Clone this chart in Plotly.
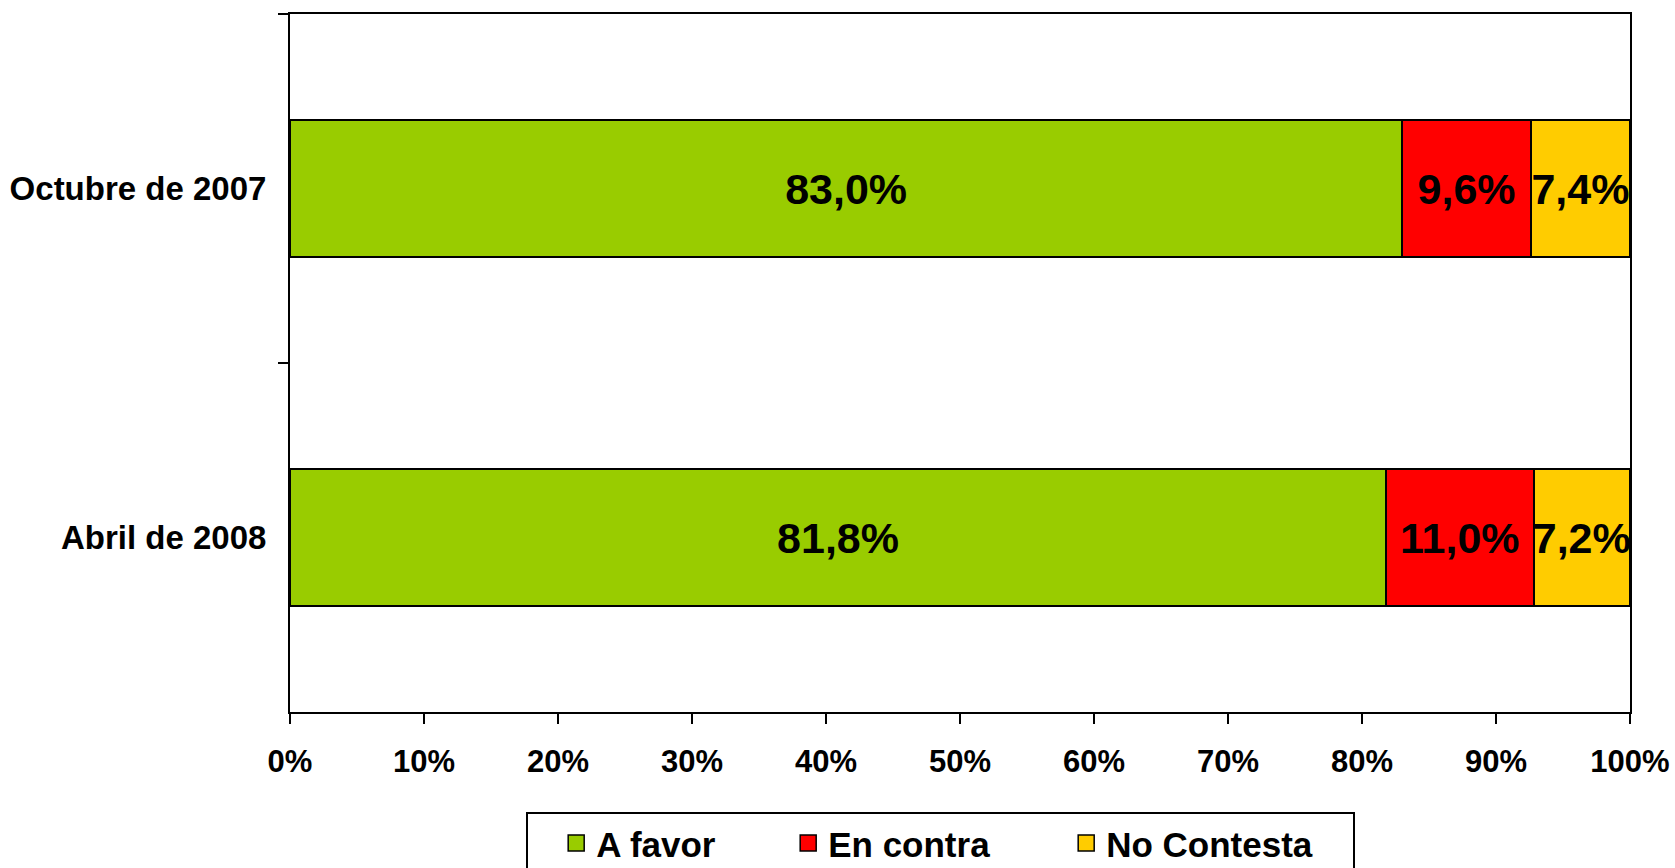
import plotly.graph_objects as go

categories = ["Octubre de 2007", "Abril de 2008"]
series_names = ["A favor", "En contra", "No Contesta"]
a_favor = [83.0, 81.8]
en_contra = [9.6, 11.0]
no_contesta = [7.4, 7.2]
colors = ["#99CC00", "#FF0000", "#FFCC00"]
x_ticks = [0, 10, 20, 30, 40, 50, 60, 70, 80, 90, 100]
x_tick_labels = [f"{v}%" for v in x_ticks]
legend_widths = [187, 233, 241]

FONT = "Liberation Sans, Arial, sans-serif"

fig = go.Figure()
for name, vals, col in zip(series_names, [a_favor, en_contra, no_contesta], colors):
    fig.add_trace(go.Bar(
        y=categories, x=vals, orientation="h", name=name,
        marker=dict(color=col, line=dict(color="black", width=2)),
        texttemplate="%{x:.1f}%", textposition="inside",
        insidetextanchor="middle", textangle=0,
        textfont=dict(family=FONT, size=43, color="black", weight="bold"),
        showlegend=False, hoverinfo="skip",
    ))
# legend entries
for name, col, lw in zip(series_names, colors, legend_widths):
    fig.add_trace(go.Scatter(
        x=[None], y=[None], mode="markers", name=name,
        marker=dict(symbol="square", size=16, color=col,
                    line=dict(color="black", width=1.5)),
        showlegend=True, legendwidth=lw,
    ))

fig.update_layout(
    width=1675, height=868,
    barmode="stack", bargap=0.605,
    separators=",.",
    margin=dict(l=290, r=45, t=14, b=156, autoexpand=False),
    paper_bgcolor="white", plot_bgcolor="white",
    font=dict(family=FONT, color="black", size=31, weight="bold"),
    uniformtext=dict(minsize=43, mode="show"),
    legend=dict(
        orientation="h", x=0.176, xanchor="left", y=-0.143, yanchor="top",
        traceorder="normal",
        bordercolor="black", borderwidth=2, bgcolor="white",
        font=dict(family=FONT, size=35, color="black", weight="bold"),
        itemsizing="trace",
        title=dict(text="\u00a0\u00a0", side="left",
                   font=dict(family=FONT, size=33, color="black")),
    ),
)
fig.update_xaxes(
    range=[0, 100], tickvals=x_ticks, ticktext=x_tick_labels,
    showgrid=False, zeroline=False,
    showline=True, linecolor="black", linewidth=2, mirror=True,
    ticks="outside", ticklen=10, tickwidth=2, tickcolor="black",
    ticklabelstandoff=11,
    tickfont=dict(family=FONT, size=31, color="black", weight="bold"),
)
fig.update_yaxes(
    autorange="reversed", tickson="boundaries",
    showgrid=False, zeroline=False,
    showline=True, linecolor="black", linewidth=2, mirror=True,
    ticks="outside", ticklen=10, tickwidth=2, tickcolor="black",
    ticklabelstandoff=15,
    tickfont=dict(family=FONT, size=33, color="black", weight="bold"),
)

fig.write_html("out.html", config={"displayModeBar": False},
               post_script="document.body.style.margin='0';")
